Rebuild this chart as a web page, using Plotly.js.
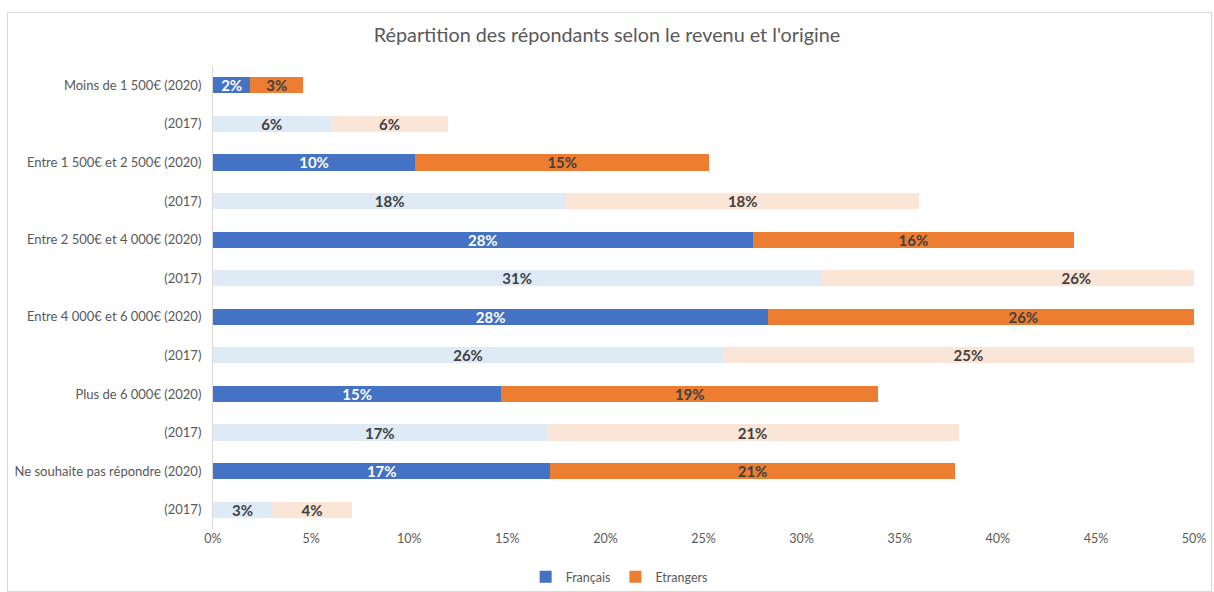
<!DOCTYPE html>
<html>
<head>
<meta charset="utf-8">
<script src="https://cdn.plot.ly/plotly-3.0.1.min.js"></script>
<style>
  body { margin: 0; background: #fff; }
  #plot { width: 1214px; height: 592px; }
  #frame { position: absolute; left: 7px; top: 12px; width: 1203px; height: 578px; border: 1px solid #d9d9d9; pointer-events: none; }
</style>
</head>
<body>
<div id="plot"></div>
<div id="frame"></div>
<script>
// Répartition des répondants selon le revenu et l'origine

const rowKeys = ['r1', 'r2', 'r3', 'r4', 'r5', 'r6', 'r7', 'r8', 'r9', 'r10', 'r11', 'r12'];
const rowLabels = [
    'Moins de 1 500€ (2020)', '(2017)',
    'Entre 1 500€ et 2 500€ (2020)', '(2017)',
    'Entre 2 500€ et 4 000€ (2020)', '(2017)',
    'Entre 4 000€ et 6 000€ (2020)', '(2017)',
    'Plus de 6 000€ (2020)', '(2017)',
    'Ne souhaite pas répondre (2020)', '(2017)'
];

// 2020 rows (even index) and 2017 rows (odd index)
const keys2020 = ['r1', 'r3', 'r5', 'r7', 'r9', 'r11'];
const keys2017 = ['r2', 'r4', 'r6', 'r8', 'r10', 'r12'];

const francais2020 = [0.019, 0.103, 0.275, 0.283, 0.147, 0.172];
const etrangers2020 = [0.027, 0.150, 0.164, 0.260, 0.192, 0.206];
const francais2017 = [0.060, 0.180, 0.310, 0.260, 0.170, 0.030];
const etrangers2017 = [0.060, 0.180, 0.260, 0.250, 0.210, 0.041];

const pct = v => Math.round(v * 100) + '%';

const common = {
    type: 'bar',
    orientation: 'h',
    textposition: 'inside',
    insidetextanchor: 'middle',
    constraintext: 'none',
    hoverinfo: 'skip',
    cliponaxis: true
};

const labelFont = (color) => ({ color: color, size: 15, family: 'Lato, sans-serif', weight: 'bold' });

const traceFr2020 = Object.assign({}, common, {
    name: 'Français',
    y: keys2020,
    x: francais2020,
    text: francais2020.map(pct),
    marker: { color: '#4472C4' },
    textfont: labelFont('#ffffff')
});

const traceEt2020 = Object.assign({}, common, {
    name: 'Etrangers',
    y: keys2020,
    x: etrangers2020,
    text: etrangers2020.map(pct),
    marker: { color: '#ED7D31' },
    textfont: labelFont('#404040')
});

const traceFr2017 = Object.assign({}, common, {
    name: 'Français 2017',
    y: keys2017,
    x: francais2017,
    text: francais2017.map(pct),
    marker: { color: '#DEEBF7' },
    textfont: labelFont('#404040'),
    showlegend: false
});

const traceEt2017 = Object.assign({}, common, {
    name: 'Etrangers 2017',
    y: keys2017,
    x: etrangers2017,
    text: etrangers2017.map(pct),
    marker: { color: '#FBE5D6' },
    textfont: labelFont('#404040'),
    showlegend: false
});

const layout = {
    width: 1214,
    height: 592,
    margin: { l: 213, r: 20, t: 66, b: 63, autoexpand: false },
    paper_bgcolor: '#ffffff',
    plot_bgcolor: '#ffffff',
    font: { family: 'Lato, sans-serif', color: '#595959', size: 13 },
    title: {
        text: "Répartition des répondants selon le revenu et l'origine",
        font: { size: 19.8, color: '#595959' },
        x: 0.5,
        xanchor: 'center',
        y: 0.94,
        yanchor: 'middle'
    },
    barmode: 'stack',
    bargap: 0.58,
    xaxis: {
        range: [0, 0.5],
        tickvals: [0, 0.05, 0.1, 0.15, 0.2, 0.25, 0.3, 0.35, 0.4, 0.45, 0.5],
        tickformat: '.0%',
        showgrid: false,
        zeroline: false,
        showline: false,
        ticks: '',
        ticklen: 0,
        automargin: false,
        tickfont: { size: 12.5, color: '#595959' },
        fixedrange: true
    },
    yaxis: {
        type: 'category',
        categoryorder: 'array',
        categoryarray: rowKeys,
        tickmode: 'array',
        tickvals: rowKeys,
        ticktext: rowLabels,
        autorange: 'reversed',
        showgrid: false,
        zeroline: false,
        showline: true,
        linecolor: '#d9d9d9',
        linewidth: 1,
        ticks: '',
        automargin: false,
        ticklabelstandoff: 8,
        tickfont: { size: 13, color: '#595959' },
        fixedrange: true
    },
    showlegend: true,
    legend: {
        orientation: 'h',
        xref: 'container',
        yref: 'container',
        x: 0.51,
        xanchor: 'center',
        y: 0.025,
        yanchor: 'middle',
        itemwidth: 30,
        font: { size: 12.5, color: '#595959' },
        traceorder: 'normal'
    }
};

Plotly.newPlot('plot', [traceFr2020, traceEt2020, traceFr2017, traceEt2017], layout, { displayModeBar: false, staticPlot: true });
</script>
</body>
</html>
